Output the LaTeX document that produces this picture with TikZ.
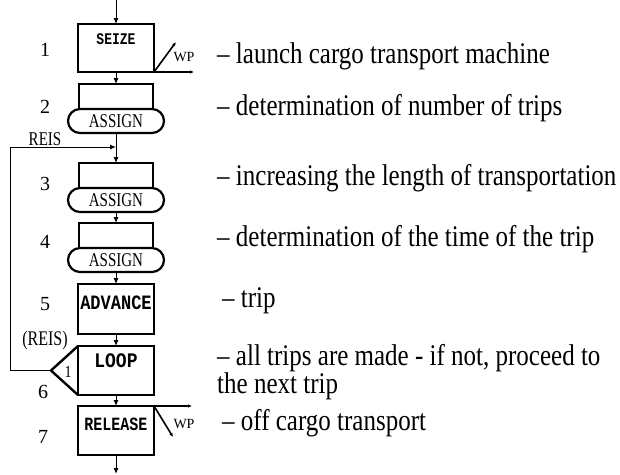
\documentclass[tikz,border=0pt]{standalone}
\usepackage{fontspec}
\setmainfont{Liberation Serif}
\setmonofont{Liberation Mono}
\usetikzlibrary{arrows.meta, positioning, shapes.misc}

% the scanned lettering is taller than it is wide
\newcommand{\vstretch}[2]{\scalebox{1}[#1]{#2}}

\begin{document}
\begin{tikzpicture}[x=1pt, y=-1pt, node distance=12pt,
    block/.style={draw, rectangle, line width=2.4pt, outer sep=0pt, inner sep=0pt, minimum width=76pt, minimum height=48pt},
    assignbox/.style={draw, rectangle, line width=2.2pt, outer sep=0pt, inner sep=0pt, minimum width=74pt, minimum height=25pt},
    pill/.style={draw, rounded rectangle, line width=2.2pt, outer sep=0pt, inner sep=0pt, minimum width=96pt, minimum height=24pt, font=\fontsize{15}{15}\selectfont},
    blocktext/.style={anchor=north, inner sep=0pt, font=\ttfamily\bfseries\fontsize{#1}{#1}\selectfont},
    flow/.style={-{Latex[length=6pt,width=5pt]}, line width=1pt},
    wp/.style={-{Latex[length=4pt,width=3.5pt]}, line width=1.6pt},
    note/.style={anchor=base west, inner sep=0pt, font=\fontsize{25}{28}\selectfont},
    num/.style={inner sep=0pt, font=\fontsize{20}{20}\selectfont}]

    \useasboundingbox (0,0) rectangle (620,474);

    % GPSS blocks, top to bottom
    \node (seize) [block, label={[blocktext=13, yshift=-9pt]north:\vstretch{1.25}{SEIZE}}] at (116,48) {};
    \node (assign2) [assignbox, below=of seize] {};
    \node (pill2) [pill, below=0pt of assign2] {\vstretch{1.3}{ASSIGN}};
    \node (assign3) [assignbox, below=30pt of pill2] {};
    \node (pill3) [pill, below=0pt of assign3] {\vstretch{1.3}{ASSIGN}};
    \node (assign4) [assignbox, below=11pt of pill3] {};
    \node (pill4) [pill, below=0pt of assign4] {\vstretch{1.3}{ASSIGN}};
    \node (advance) [block, minimum height=50pt, below=of pill4, label={[blocktext=17, yshift=-12pt]north:\vstretch{1.2}{ADVANCE}}] {};
    \node (loop) [block, minimum height=49pt, below=of advance, label={[blocktext=18, yshift=-7pt]north:\vstretch{1.15}{LOOP}}] {};
    \node (release) [block, minimum height=49pt, below=11pt of loop, label={[blocktext=15, yshift=-12pt]north:\vstretch{1.25}{RELEASE}}] {};

    % block numbers
    \node[num] (n1) at (45,50) {1};
    \node[num] (n2) at (45,107) {2};
    \node[num] (n3) at (45,184) {3};
    \node[num] (n4) at (45,242) {4};
    \node[num] (n5) at (45,304) {5};
    \node[num] (n6) at (43,392) {6};
    \node[num] (n7) at (43,437) {7};

    % free ends
    \coordinate (entry) at (116,0);
    \coordinate (exit) at (116,474);
    \coordinate[above=16pt of assign3.north] (reis);
    \coordinate[left=27pt of loop.west] (tip);

    % main flow
    \draw[flow] (entry) -- (seize);
    \draw[flow] (seize) -- (assign2);
    \draw[flow] (pill2) -- (assign3);
    \draw[flow] (pill3) -- (assign4);
    \draw[flow] (pill4) -- (advance);
    \draw[flow] (advance) -- (loop);
    \draw[flow] (loop) -- (release);
    \draw[flow] (release) -- (exit);

    % loop back to REIS
    \draw[line width=2.4pt, line join=miter] (loop.north west) -- (tip) -- (loop.south west);
    \node[inner sep=0pt, font=\fontsize{14}{14}\selectfont] (one) at (68,372) {\vstretch{1.2}{1}};
    \draw[flow] (tip) -- ++(-41,0) |- (reis);
    \node[inner sep=0pt, font=\fontsize{15}{15}\selectfont] (reislabel) at (45,139) {\vstretch{1.3}{REIS}};
    \node[inner sep=0pt, font=\fontsize{16}{16}\selectfont] (reisloop) at (45,340) {\vstretch{1.3}{(REIS)}};

    % storage WP
    \draw[wp] (seize.south east) -- ++(22,-30);
    \draw[wp] (seize.south east) -- ++(40,0);
    \node[inner sep=0pt, font=\fontsize{14}{14}\selectfont] (wp1) at (184,57) {WP};
    \draw[wp] (release.north east) -- ++(19,31);
    \draw[wp] (release.north east) -- ++(38,0);
    \node[inner sep=0pt, font=\fontsize{14}{14}\selectfont] (wp7) at (184,424) {WP};

    % comments on the right
    \node[note] (t1) at (217,63) {\vstretch{1.2}{-- launch cargo transport machine}};
    \node[note] (t2) at (217,115) {\vstretch{1.2}{-- determination of number of trips}};
    \node[note] (t3) at (217,185) {\vstretch{1.2}{-- increasing the length of transportation}};
    \node[note] (t4) at (217,246) {\vstretch{1.2}{-- determination of the time of the trip}};
    \node[note] (t5) at (222,307) {\vstretch{1.2}{-- trip}};
    \node[note, align=left] (t6) at (217,393) {\vstretch{1.2}{-- all trips are made - if not, proceed to}\\\vstretch{1.2}{the next trip}};
    \node[note] (t7) at (222,430) {\vstretch{1.2}{-- off cargo transport}};

\end{tikzpicture}
\end{document}
